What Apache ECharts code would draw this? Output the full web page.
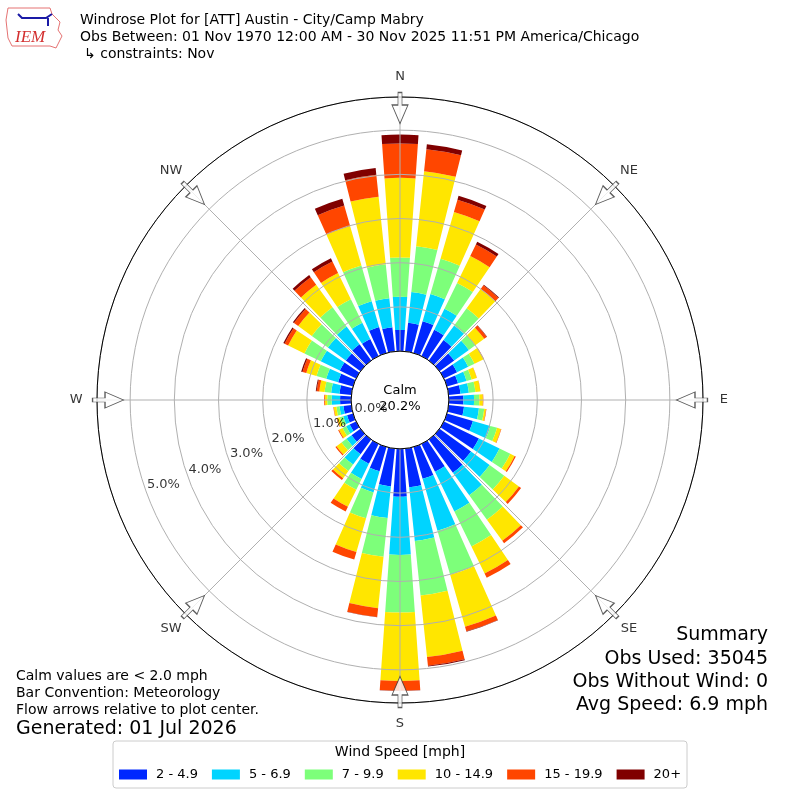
<!DOCTYPE html>
<html>
<head>
<meta charset="utf-8">
<title>Windrose Plot</title>
<script src="https://cdn.jsdelivr.net/npm/echarts@6/dist/echarts.min.js"></script>
<style>
  html, body { margin: 0; padding: 0; background: #fff; }
  #chart { width: 800px; height: 800px; }
</style>
</head>
<body>
<div id="chart"></div>
<script>
// wind directions, 10 degree bins, meteorological convention (from)
const directions = ['0', '10', '20', '30', '40', '50', '60', '70', '80', '90', '100', '110',
  '120', '130', '140', '150', '160', '170', '180', '190', '200', '210', '220', '230',
  '240', '250', '260', '270', '280', '290', '300', '310', '320', '330', '340', '350'];

const speedBins = ['2 - 4.9', '5 - 6.9', '7 - 9.9', '10 - 14.9', '15 - 19.9', '20+'];
const binColors = ['#0028ff', '#00d4ff', '#7dff7a', '#ffe600', '#ff4600', '#800000'];

// percent of observations per direction and speed bin
const speed2to5 = [0.48, 0.65, 0.75, 0.66, 0.57, 0.41, 0.33, 0.26, 0.27, 0.33, 0.35, 0.61,
  0.88, 0.88, 0.93, 0.70, 0.75, 0.88, 1.08, 0.86, 0.57, 0.50, 0.41, 0.25,
  0.16, 0.14, 0.18, 0.25, 0.27, 0.35, 0.41, 0.41, 0.45, 0.43, 0.61, 0.55];
const speed5to7 = [0.75, 0.70, 0.64, 0.53, 0.41, 0.41, 0.28, 0.20, 0.19, 0.24, 0.34, 0.41,
  0.52, 0.52, 0.63, 1.00, 1.22, 1.22, 1.32, 0.72, 0.50, 0.38, 0.29, 0.14,
  0.09, 0.09, 0.09, 0.19, 0.19, 0.28, 0.48, 0.50, 0.50, 0.41, 0.61, 0.66];
const speed7to10 = [0.89, 1.04, 0.83, 0.65, 0.48, 0.18, 0.16, 0.12, 0.15, 0.12, 0.12, 0.16,
  0.27, 0.41, 0.68, 0.88, 1.04, 1.24, 1.30, 0.88, 0.61, 0.27, 0.18, 0.14,
  0.09, 0.08, 0.07, 0.10, 0.15, 0.23, 0.41, 0.45, 0.54, 0.59, 0.84, 0.77];
const speed10to15 = [1.80, 1.71, 1.10, 0.68, 0.54, 0.25, 0.23, 0.12, 0.11, 0.08, 0.04, 0.09,
  0.11, 0.41, 0.59, 0.68, 1.22, 1.40, 1.55, 1.17, 0.79, 0.43, 0.20, 0.14,
  0.09, 0.07, 0.06, 0.05, 0.12, 0.24, 0.41, 0.38, 0.63, 0.66, 0.93, 1.54];
const speed15to20 = [0.78, 0.50, 0.29, 0.29, 0.10, 0.07, 0.01, 0.005, 0.005, 0.01, 0.01, 0.01,
  0.03, 0.06, 0.07, 0.11, 0.11, 0.20, 0.22, 0.20, 0.18, 0.12, 0.05, 0.03,
  0.02, 0.01, 0.01, 0.02, 0.06, 0.09, 0.09, 0.12, 0.21, 0.29, 0.48, 0.50];
const speed20plus = [0.20, 0.11, 0.09, 0.07, 0.02, 0.01, 0, 0, 0, 0, 0, 0,
  0, 0, 0, 0, 0.01, 0.02, 0.01, 0.005, 0, 0, 0, 0,
  0, 0, 0, 0, 0.02, 0.03, 0.03, 0.03, 0.06, 0.08, 0.16, 0.15];

const compassAngles = [0, 45, 90, 135, 180, 225, 270, 315];
const compassNames = ['N', 'NE', 'E', 'SE', 'S', 'SW', 'W', 'NW'];
const radiusTicks = [0, 1, 2, 3, 4, 5];
const calmPercent = 20.2;

const binValues = [speed2to5, speed5to7, speed7to10, speed10to15, speed15to20, speed20plus];
const font = '"DejaVu Sans", sans-serif';
const rMax = 5.75;
const arrowR = 5.5;
const compassR = 6.22;
const rLabelAngle = 250;

const chart = echarts.init(document.getElementById('chart'));

const barSeries = speedBins.map((name, i) => ({
  name: name,
  type: 'bar',
  coordinateSystem: 'polar',
  polarIndex: 0,
  stack: 'speed',
  barCategoryGap: '20%',
  data: binValues[i],
  itemStyle: { color: binColors[i] },
  silent: true,
  z: 2
}));

const arrowSeries = {
  type: 'scatter',
  coordinateSystem: 'polar',
  polarIndex: 1,
  clip: false,
  symbol: 'path://M6,0 L10,0 L10,12.3 L16,12.3 L8,30.6 L0,12.3 L6,12.3 Z',
  symbolSize: [16, 31],
  itemStyle: { color: '#fff', borderColor: '#333', borderWidth: 1 },
  data: compassAngles.map(a => ({ value: [arrowR, a], symbolRotate: -a })),
  silent: true,
  z: 10
};

// compass names, centred outside the outer ring
const compassSeries = {
  type: 'scatter',
  coordinateSystem: 'polar',
  polarIndex: 1,
  clip: false,
  symbolSize: 1,
  itemStyle: { color: 'rgba(0,0,0,0)' },
  data: compassAngles.map((a, i) => ({ value: [compassR, a], name: compassNames[i] })),
  label: {
    show: true,
    position: 'inside',
    formatter: p => p.name,
    fontFamily: font,
    fontSize: 13,
    color: '#000'
  },
  silent: true,
  z: 11
};

const rLabelSeries = {
  type: 'scatter',
  coordinateSystem: 'polar',
  polarIndex: 1,
  clip: false,
  symbolSize: 1,
  itemStyle: { color: 'rgba(0,0,0,0)' },
  data: radiusTicks.map(t => [t, rLabelAngle]),
  label: {
    show: true,
    position: 'inside',
    offset: [17, -8],
    formatter: p => p.value[0].toFixed(1) + '%',
    fontFamily: font,
    fontSize: 13,
    color: '#000'
  },
  silent: true,
  z: 11
};

function txt(x, y, text, size, extra) {
  return {
    type: 'text', x: x, y: y, z: 20,
    style: Object.assign({ text: text, font: size + 'px ' + font, fill: '#000', verticalAlign: 'middle' }, extra || {})
  };
}

const option = {
  animation: false,
  backgroundColor: '#fff',
  textStyle: { fontFamily: font },
  polar: [
    { center: [400, 400], radius: [48.9, 303] },
    { center: [400, 400], radius: [48.9, 303] }
  ],
  angleAxis: [
    {
      polarIndex: 0,
      type: 'category',
      data: directions,
      startAngle: 95,
      clockwise: true,
      axisLine: { show: false },
      axisTick: { show: false },
      axisLabel: { show: false },
      splitLine: { show: false }
    },
    {
      polarIndex: 1,
      type: 'value',
      min: 0,
      max: 360,
      interval: 45,
      startAngle: 90,
      clockwise: true,
      z: 6,
      axisLine: { show: true, lineStyle: { color: '#000', width: 1 } },
      axisTick: { show: false },
      axisLabel: { show: false },
      splitLine: { show: true, lineStyle: { color: '#b0b0b0', width: 1 } }
    }
  ],
  radiusAxis: [
    {
      polarIndex: 0,
      min: 0,
      max: rMax,
      axisLine: { show: false },
      axisTick: { show: false },
      axisLabel: { show: false },
      splitLine: { show: false }
    },
    {
      polarIndex: 1,
      min: 0,
      max: rMax,
      interval: 1,
      z: 5,
      axisLine: { show: false },
      axisTick: { show: false },
      axisLabel: { show: false },
      splitLine: { show: true, lineStyle: { color: '#b0b0b0', width: 1 } }
    }
  ],
  legend: {
    data: speedBins,
    left: 119,
    top: 768,
    padding: 0,
    icon: 'rect',
    itemWidth: 28,
    itemHeight: 10,
    itemGap: 14,
    textStyle: { fontFamily: font, fontSize: 13, color: '#000', padding: [0, 0, 0, 4] },
    selectedMode: false
  },
  graphic: [
    // IEM logo (rough)
    {
      type: 'polyline',
      shape: { points: [[8, 8], [50, 8], [52, 14], [60, 22], [58, 30], [62, 36], [56, 48], [50, 46], [12, 46], [8, 38], [6, 20], [8, 8]] },
      style: { stroke: '#e57373', lineWidth: 1, fill: null }
    },
    {
      type: 'polyline',
      shape: { points: [[18, 14], [22, 18], [46, 18], [52, 14]] },
      style: { stroke: '#1a1aa6', lineWidth: 2, fill: null }
    },
    {
      type: 'line',
      shape: { x1: 48, y1: 18, x2: 48, y2: 26 },
      style: { stroke: '#1a1aa6', lineWidth: 2 }
    },
    {
      type: 'text', x: 15, y: 38,
      style: { text: 'IEM', font: 'italic 17px "Liberation Serif", serif', fill: '#d32f2f', verticalAlign: 'middle' }
    },
    // titles
    txt(80, 20, 'Windrose Plot for [ATT] Austin - City/Camp Mabry', 14),
    txt(80, 37, 'Obs Between: 01 Nov 1970 12:00 AM - 30 Nov 2025 11:51 PM America/Chicago', 14),
    txt(84, 54, '\u21b3 constraints: Nov', 14),
    // calm text in the center
    txt(400, 391, 'Calm', 13, { align: 'center' }),
    txt(400, 407, calmPercent.toFixed(1) + '%', 13, { align: 'center' }),
    // notes bottom left
    txt(16, 676, 'Calm values are < 2.0 mph', 14),
    txt(16, 693, 'Bar Convention: Meteorology', 14),
    txt(16, 710, 'Flow arrows relative to plot center.', 14),
    txt(16, 729, 'Generated: 01 Jul 2026', 19),
    // summary bottom right
    txt(768, 635, 'Summary', 19, { align: 'right' }),
    txt(768, 659, 'Obs Used: 35045', 19, { align: 'right' }),
    txt(768, 682, 'Obs Without Wind: 0', 19, { align: 'right' }),
    txt(768, 705, 'Avg Speed: 6.9 mph', 19, { align: 'right' }),
    // legend frame and title
    {
      type: 'rect', z: -1,
      shape: { x: 113, y: 741, width: 574, height: 47, r: 3 },
      style: { fill: '#fff', stroke: '#cccccc', lineWidth: 1 }
    },
    txt(400, 752, 'Wind Speed [mph]', 14, { align: 'center' })
  ],
  series: [...barSeries, arrowSeries, compassSeries, rLabelSeries]
};

chart.setOption(option);
</script>
</body>
</html>
